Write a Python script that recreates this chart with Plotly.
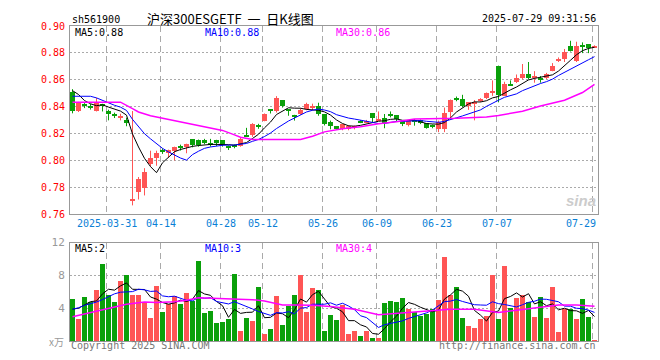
import plotly.graph_objects as go
import pandas as pd

# ---------------- data ----------------
holidays = ['2025-04-04', '2025-05-01', '2025-05-02', '2025-05-05', '2025-06-02']
dates = [d.strftime('%Y-%m-%d') for d in pd.bdate_range('2025-03-21', '2025-07-29')
         if d.strftime('%Y-%m-%d') not in holidays]

opens = [0.851, 0.837, 0.8412, 0.8403, 0.837, 0.8416, 0.8367, 0.8337, 0.8323, 0.8303,
         0.7702, 0.7763, 0.7795, 0.7972, 0.8016, 0.8074, 0.8053, 0.8072, 0.8104, 0.8097,
         0.8156, 0.8150, 0.8155, 0.8121, 0.8148, 0.8148, 0.8099, 0.8109, 0.8109, 0.8184,
         0.8187, 0.8257, 0.8296, 0.8380, 0.8368, 0.8446, 0.8375, 0.8334, 0.8344, 0.8381,
         0.8398, 0.8402, 0.8344, 0.8284, 0.8253, 0.8234, 0.8232, 0.8238, 0.8291, 0.8282,
         0.8349, 0.8301, 0.8316, 0.8342, 0.8335, 0.8296, 0.8260, 0.8292, 0.8304, 0.8277,
         0.8257, 0.8234, 0.8234, 0.8357, 0.8462, 0.8456, 0.8407, 0.8427, 0.8449, 0.8463,
         0.8512, 0.8705, 0.8480, 0.8561, 0.8585, 0.8610, 0.8646, 0.8622, 0.8615, 0.8610,
         0.8668, 0.8737, 0.8756, 0.8849, 0.8737, 0.8856, 0.8863, 0.8839]
highs = [0.853, 0.8435, 0.8426, 0.8419, 0.8465, 0.8421, 0.8377, 0.8355, 0.8347, 0.8318,
         0.8367, 0.7876, 0.7942, 0.8072, 0.8072, 0.8089, 0.8080, 0.8102, 0.8117, 0.8124,
         0.8156, 0.8155, 0.8160, 0.8160, 0.8153, 0.8150, 0.8111, 0.8119, 0.8174, 0.8242,
         0.8277, 0.8272, 0.8349, 0.8380, 0.8478, 0.8446, 0.8375, 0.8339, 0.8388, 0.8429,
         0.8422, 0.8429, 0.8344, 0.8296, 0.8255, 0.8267, 0.8262, 0.8260, 0.8299, 0.8301,
         0.8349, 0.8364, 0.8345, 0.8364, 0.8335, 0.8296, 0.8296, 0.8306, 0.8304, 0.8277,
         0.8267, 0.8296, 0.8393, 0.8453, 0.8475, 0.8488, 0.8432, 0.8449, 0.8463, 0.8505,
         0.8595, 0.8705, 0.8585, 0.8595, 0.8639, 0.8717, 0.8732, 0.8664, 0.8627, 0.8651,
         0.8724, 0.8766, 0.8829, 0.8890, 0.8883, 0.8878, 0.8863, 0.8856]
lows = [0.835, 0.836, 0.8389, 0.8378, 0.8364, 0.8364, 0.8298, 0.8315, 0.8298, 0.8254,
        0.7665, 0.7709, 0.7739, 0.7955, 0.7960, 0.8048, 0.8021, 0.7999, 0.8073, 0.8053,
        0.8097, 0.8102, 0.8120, 0.8102, 0.8107, 0.8102, 0.8077, 0.8090, 0.8102, 0.8175,
        0.8175, 0.8235, 0.8291, 0.8349, 0.8356, 0.8393, 0.8332, 0.8296, 0.8339, 0.8373,
        0.8373, 0.8332, 0.8260, 0.8231, 0.8226, 0.8224, 0.8224, 0.8231, 0.8277, 0.8277,
        0.8284, 0.8296, 0.8239, 0.8320, 0.8289, 0.8255, 0.8253, 0.8258, 0.8270, 0.8236,
        0.8239, 0.8210, 0.8210, 0.8308, 0.8440, 0.8395, 0.8376, 0.8298, 0.8434, 0.8456,
        0.8480, 0.8432, 0.8480, 0.8557, 0.8576, 0.8603, 0.8603, 0.8578, 0.8578, 0.8605,
        0.8663, 0.8732, 0.8732, 0.8810, 0.8732, 0.8798, 0.8798, 0.8839]
closes = [0.837, 0.843, 0.8407, 0.8398, 0.843, 0.8401, 0.8347, 0.8333, 0.8323, 0.8279,
          0.7702, 0.7861, 0.7910, 0.8016, 0.8053, 0.8070, 0.8080, 0.8102, 0.8100, 0.8124,
          0.8114, 0.8112, 0.8126, 0.8117, 0.8126, 0.8121, 0.8095, 0.8105, 0.8162, 0.8180,
          0.8272, 0.8253, 0.8344, 0.8376, 0.8461, 0.8405, 0.8371, 0.8330, 0.8373, 0.8417,
          0.8398, 0.8344, 0.8272, 0.8255, 0.8235, 0.8267, 0.8258, 0.8256, 0.8287, 0.8295,
          0.8316, 0.8301, 0.8277, 0.8338, 0.8308, 0.8267, 0.8296, 0.8288, 0.8277, 0.8241,
          0.8253, 0.8287, 0.8349, 0.8453, 0.8458, 0.8407, 0.8432, 0.8427, 0.8449, 0.8505,
          0.8512, 0.8485, 0.8566, 0.8557, 0.8610, 0.8646, 0.8615, 0.8622, 0.8602, 0.8644,
          0.8700, 0.8756, 0.8810, 0.8815, 0.8849, 0.8852, 0.8839, 0.8854]
volumes = [5.16, 2.76, 5.36, 4.8, 6.32, 9.48, 5.6, 4.8, 7.4, 8.12,
           5.6, 5.6, 4.68, 2.84, 6.8, 3.56, 4.56, 5.48, 4.52, 5.96,
           4.96, 9.8, 3.44, 3.68, 2.24, 2.36, 2.72, 8.24, 1.28, 2.84,
           2.48, 6.68, 0.92, 1.52, 5.48, 2.0, 4.28, 5.72, 8.12, 3.56,
           6.56, 6.32, 1.28, 3.2, 2.6, 4.4, 0.92, 1.28, 0.68, 1.28,
           0.44, 0.44, 4.64, 4.88, 4.76, 5.24, 3.92, 3.56, 3.08, 3.32,
           3.92, 5.0, 10.28, 5.6, 6.68, 2.84, 1.88, 1.64, 2.72, 3.08,
           8.12, 2.72, 9.2, 4.04, 5.24, 5.6, 4.76, 2.96, 5.36, 2.84,
           6.68, 1.16, 3.92, 3.92, 2.72, 5.12, 2.96, 0.2]

# moving-average values read from the picture where the window has no history
ma5_head = [0.8519, 0.8490, 0.8445, 0.8421]
ma10_head = [0.8477, 0.8477, 0.8477, 0.8477, 0.8465, 0.8445, 0.8425, 0.8410, 0.8396]
ma30_idx = [0, 8, 10, 11, 13, 16, 18, 21, 23, 25, 27, 28, 30, 38, 40, 42, 45, 48, 51, 54,
            57, 61, 64, 69, 71, 75, 78, 82, 85, 87]
ma30_val = [0.8433, 0.8433, 0.8385, 0.8360, 0.8332, 0.8305, 0.8290, 0.8262, 0.8245, 0.8223,
            0.8190, 0.8172, 0.8155, 0.8155, 0.8180, 0.8212, 0.8236, 0.8250, 0.8272, 0.8287,
            0.8308, 0.8308, 0.8313, 0.8322, 0.8334, 0.8366, 0.8405, 0.8448, 0.8505, 0.8566]
vol_ma5_head = [3.88, 4.0, 4.4, 4.8]
vol_ma10_head = [3.88, 4.05, 4.35, 4.55, 4.75, 5.05, 5.45, 5.75, 5.95]
vol_ma30_idx = [0, 3, 6, 9, 12, 14, 17, 19, 21, 24, 27, 30, 32, 35, 37, 40, 43, 47, 51, 54,
                57, 61, 63, 67, 71, 74, 77, 81, 84, 87]
vol_ma30_val = [2.96, 3.48, 4.0, 4.48, 4.76, 4.68, 4.8, 4.96, 5.28, 5.2, 5.08, 5.04, 4.88, 4.4,
                4.4, 4.36, 4.2, 3.88, 3.2, 3.36, 3.48, 3.76, 3.88, 3.88, 3.48, 3.76, 4.0, 4.4,
                4.4, 4.24]

tick_dates = ['2025-03-31', '2025-04-14', '2025-04-28', '2025-05-12', '2025-05-26',
              '2025-06-09', '2025-06-23', '2025-07-07', '2025-07-29']
tick_labels = ['2025-03-31', '04-14', '04-28', '05-12', '05-26', '06-09', '06-23', '07-07', '07-29']
price_ticks = [0.76, 0.78, 0.80, 0.82, 0.84, 0.86, 0.88, 0.90]
vol_ticks = [4, 8, 12]

# ---------------- helpers ----------------
n = len(dates)
idx = list(range(n))


def moving(vals, w, head):
    out = list(head)
    for i in range(len(head), len(vals)):
        out.append(sum(vals[i - w + 1:i + 1]) / w)
    return out


ma5 = moving(closes, 5, ma5_head)
ma10 = moving(closes, 10, ma10_head)
vma5 = moving(volumes, 5, vol_ma5_head)
vma10 = moving(volumes, 10, vol_ma10_head)

RED = '#ff5555'
GREEN = '#0aa00a'
up = [c >= o for o, c in zip(opens, closes)]
colors = [RED if u else GREEN for u in up]

MONO = 'DejaVu Sans Mono'
OFF = 8                       # page body margin offset of the browser
W, H = 660, 360
PW, PH = 528, 321             # plot area size (pixels)
L, T = 70 - OFF, 20 - OFF     # target plot left / top in window pixels minus offset
R, B = W - L - PW, H - T - PH


def px(X):
    return (X - OFF - L) / PW


def py(Y):
    return (T + PH - (Y - OFF)) / PH


fig = go.Figure()

# wicks
for col, flag in ((RED, True), (GREEN, False)):
    wx, wy = [], []
    for i in idx:
        if up[i] == flag:
            wx += [i, i, None]
            wy += [lows[i], highs[i], None]
    fig.add_trace(go.Scatter(x=wx, y=wy, mode='lines', line=dict(color=col, width=1),
                             xaxis='x', yaxis='y', hoverinfo='skip'))

# bodies
min_h = 0.0008
bases, heights = [], []
for o, c in zip(opens, closes):
    hgt = abs(c - o)
    if hgt < min_h:
        bases.append((o + c) / 2 - min_h / 2)
        heights.append(min_h)
    else:
        bases.append(min(o, c))
        heights.append(hgt)
fig.add_trace(go.Bar(x=idx, y=heights, base=bases, width=0.84, marker=dict(color=colors, line=dict(width=0)),
                     xaxis='x', yaxis='y', hoverinfo='skip'))

# price MAs
fig.add_trace(go.Scatter(x=idx, y=ma5, mode='lines', line=dict(color='#000000', width=1), xaxis='x', yaxis='y'))
fig.add_trace(go.Scatter(x=idx, y=ma10, mode='lines', line=dict(color='#0000ff', width=1), xaxis='x', yaxis='y'))
fig.add_trace(go.Scatter(x=ma30_idx, y=ma30_val, mode='lines', line=dict(color='#ff00ff', width=1.5),
                         xaxis='x', yaxis='y'))

# volume
fig.add_trace(go.Bar(x=idx, y=volumes, width=0.84, marker=dict(color=colors, line=dict(width=0)),
                     xaxis='x2', yaxis='y2', hoverinfo='skip'))
fig.add_trace(go.Scatter(x=idx, y=vma5, mode='lines', line=dict(color='#000000', width=1), xaxis='x2', yaxis='y2'))
fig.add_trace(go.Scatter(x=idx, y=vma10, mode='lines', line=dict(color='#0000ff', width=1), xaxis='x2', yaxis='y2'))
fig.add_trace(go.Scatter(x=vol_ma30_idx, y=vol_ma30_val, mode='lines', line=dict(color='#ff00ff', width=1.5),
                         xaxis='x2', yaxis='y2'))

grid_x = [dates.index(d) - 0.3 for d in tick_dates]
xr = [-0.417, n - 1 + 0.583]

price_dom = [1 - (211.7 - 20) / PH, 1]
vol_dom = [0, 1 - (240.7 - 20) / PH]

common_x = dict(range=xr, tickvals=grid_x, showticklabels=False, showgrid=True, gridcolor='#aaaaaa',
                griddash='6px,4px', gridwidth=1, showline=True, mirror=True, linecolor='#999999',
                linewidth=1, zeroline=False, ticks='', fixedrange=True)

fig.update_layout(
    width=W, height=H, margin=dict(l=L, r=R, t=T, b=B),
    paper_bgcolor='white', plot_bgcolor='white', showlegend=False, hovermode=False,
    barmode='overlay', bargap=0,
    xaxis=dict(domain=[0, 1], anchor='y', **common_x),
    xaxis2=dict(domain=[0, 1], anchor='y2', **common_x),
    yaxis=dict(domain=price_dom, range=[0.76, 0.90], tickvals=price_ticks,
               ticktext=['%.2f' % v for v in price_ticks], tickfont=dict(family=MONO, size=10, color='#ff0000'),
               showgrid=True, gridcolor='#aaaaaa', griddash='2px,2px', showline=True, mirror=True,
               linecolor='#999999', zeroline=False, ticks='outside', ticklen=2, tickcolor='rgba(0,0,0,0)'),
    yaxis2=dict(domain=vol_dom, range=[0, 12], tickvals=vol_ticks, ticktext=[str(v) for v in vol_ticks],
                tickfont=dict(family=MONO, size=11, color='#999999'),
                showgrid=True, gridcolor='#aaaaaa', griddash='2px,2px', showline=True, mirror=True,
                linecolor='#999999', zeroline=False, ticks='outside', ticklen=2, tickcolor='rgba(0,0,0,0)'),
)

ann = []


def text(X, Y, s, color='#000000', size=10, anchor='left', family=MONO, **kw):
    ann.append(dict(x=px(X), y=py(Y), xref='paper', yref='paper', text=s, showarrow=False,
                    xanchor=anchor, yanchor='middle', font=dict(family=family, size=size, color=color), **kw))


# header
text(70, 13, 'sh561900', size=10)
text(230, 12.5, '沪深300ESGETF\u00a0\u00a0一\u00a0\u00a0日K线图', size=13, anchor='center', family='Noto Sans CJK SC')
text(598, 12.5, '2025-07-29 09:31:56', size=10, anchor='right')
# price MA labels
text(73, 26.5, 'MA5:0.88', color='#000000')
text(203, 26.5, 'MA10:0.88', color='#0000ff')
text(334, 26.5, 'MA30:0.86', color='#ff00ff')
# volume MA labels
text(73, 246.5, 'MA5:2', color='#000000')
text(203, 246.5, 'MA10:3', color='#0000ff')
text(334, 246.5, 'MA30:4', color='#ff00ff')
# footer
text(66, 341, 'x万', color='#999999', size=10, anchor='right', family='Noto Sans CJK SC')
text(69, 346, 'Copyright 2025 SINA.COM', color='#777777')
text(598, 346, 'http://finance.sina.com.cn', color='#777777', anchor='right')
# watermark
text(581, 198, '<b><i>sina</i></b>', color='#cccccc', size=15, anchor='center', family='Liberation Sans')

# date labels
for k, (gx, lab) in enumerate(zip(grid_x, tick_labels)):
    last = k == len(grid_x) - 1
    ann.append(dict(x=xr[1] if last else gx, y=py(221.5), xref='x', yref='paper', text=lab, showarrow=False,
                    xanchor='right' if last else 'center', yanchor='middle',
                    font=dict(family=MONO, size=10, color='#0a7fd6')))

fig.update_layout(annotations=ann)
fig.write_html('out.html')
